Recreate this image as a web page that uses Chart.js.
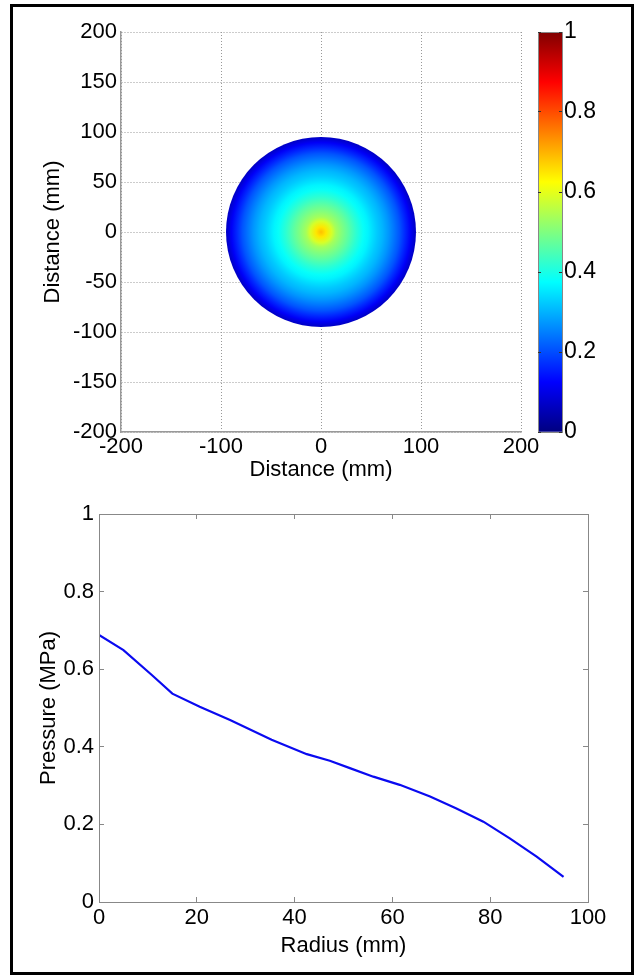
<!DOCTYPE html>
<html>
<head>
<meta charset="utf-8">
<script src="https://cdn.jsdelivr.net/npm/chart.js@4.4.1/dist/chart.umd.min.js"></script>
<style>
  html, body { margin: 0; padding: 0; background: #fff; }
  #page { position: relative; width: 639px; height: 976px; overflow: hidden; }
  #frame { position: absolute; left: 10px; top: 4px; width: 624px; height: 971px; box-sizing: border-box; border: 3px solid #000; }
  canvas { position: absolute; }
  #mapChart { left: 0; top: 0; }
  #barChart { left: 500px; top: 0; }
  #lineChart { left: 0; top: 480px; }
</style>
</head>
<body>
<div id="page">
  <div id="frame"></div>
  <canvas id="mapChart" width="546" height="490"></canvas>
  <canvas id="barChart" width="139" height="490"></canvas>
  <canvas id="lineChart" width="639" height="496"></canvas>
</div>
<script>
// radial pressure profile
const radius = [0, 5, 10.8, 15, 20.6, 26.8, 35.3, 42.5, 47.2, 51.3, 56.1, 61.5, 67.7, 73.1, 78.6, 84, 89.5, 95];
const pressure = [0.688, 0.649, 0.585, 0.537, 0.503, 0.469, 0.418, 0.381, 0.364, 0.345, 0.323, 0.302, 0.272, 0.241, 0.207, 0.164, 0.117, 0.065];

const mapTicks = [-200, -150, -100, -50, 0, 50, 100, 150, 200];
const mapXTicks = [-200, -100, 0, 100, 200];
const colorbarRange = [0, 1];
const colorbarTicks = [0, 0.2, 0.4, 0.6, 0.8, 1];
const radiusTicks = [0, 20, 40, 60, 80, 100];
const pressureTicks = [0, 0.2, 0.4, 0.6, 0.8, 1];

Chart.defaults.font.family = "'Liberation Sans', Arial, sans-serif";
Chart.defaults.color = '#000';

// matlab jet colormap
function jet(v) {
  const c = t => Math.round(255 * Math.min(1, Math.max(0, t)));
  return 'rgb(' + c(1.5 - Math.abs(4 * v - 3)) + ',' + c(1.5 - Math.abs(4 * v - 2)) + ',' + c(1.5 - Math.abs(4 * v - 1)) + ')';
}

const align = p => Math.round(p - 0.5) + 0.5;
const plainLabel = v => String(v);

// grey frame round the plot area
const boxPlugin = {
  id: 'box',
  afterDatasetsDraw(chart, args, opts) {
    if (!opts.color) return;
    const a = chart.chartArea;
    const ctx = chart.ctx;
    ctx.save();
    ctx.strokeStyle = opts.color;
    ctx.lineWidth = 1;
    const l = align(a.left), t = align(a.top), r = align(a.right), b = align(a.bottom);
    ctx.strokeRect(l, t, r - l, b - t);
    ctx.restore();
  }
};

const setTicks = list => axis => { axis.ticks = list.map(v => ({ value: v })); };

// disc radius in pixels, through the x scale
function discPixels(chart) {
  const s = chart.scales.x;
  if (!s || !chart.chartArea) return NaN;
  return s.getPixelForValue(radius[radius.length - 1]) - s.getPixelForValue(0);
}

// ---- pressure map ----
new Chart(document.getElementById('mapChart').getContext('2d'), {
  type: 'scatter',
  data: {
    datasets: [{
      data: [{ x: 0, y: 0 }],
      clip: false,
      pointRadius: ctx => {
        const r = discPixels(ctx.chart);
        return isFinite(r) ? r : 0;
      },
      pointBorderWidth: 0,
      pointBackgroundColor: ctx => {
        const chart = ctx.chart;
        const rPix = discPixels(chart);
        if (!isFinite(rPix) || rPix <= 0) return 'rgba(0,0,0,0)';
        const cx = chart.scales.x.getPixelForValue(0), cy = chart.scales.y.getPixelForValue(0);
        const rMax = radius[radius.length - 1];
        const g = chart.ctx.createRadialGradient(cx, cy, 0, cx, cy, rPix);
        radius.forEach((r, i) => g.addColorStop(r / rMax, jet(pressure[i])));
        return g;
      }
    }]
  },
  options: {
    responsive: false,
    animation: false,
    events: [],
    layout: { padding: { top: 32, right: 25, bottom: 0, left: 0 } },
    plugins: { legend: { display: false }, tooltip: { enabled: false } },
    scales: {
      x: {
        type: 'linear', min: -200, max: 200,
        afterBuildTicks: setTicks(mapXTicks),
        afterFit: s => { s.height = 58; },
        grid: { color: '#999', drawTicks: false },
        border: { color: '#999', width: 1.5, dash: [1, 2] },
        ticks: { font: { size: 22 }, padding: 2, maxRotation: 0, minRotation: 0, autoSkip: false, callback: plainLabel },
        title: { display: true, text: 'Distance (mm)', font: { size: 22 }, padding: { top: 0, bottom: 7 } }
      },
      y: {
        type: 'linear', min: -200, max: 200,
        afterBuildTicks: setTicks(mapTicks),
        afterFit: s => { s.width = 121; },
        grid: { color: '#999', drawTicks: false },
        border: { color: '#999', width: 1.5, dash: [1, 2] },
        ticks: { font: { size: 22 }, padding: 4, autoSkip: false, callback: plainLabel },
        title: { display: true, text: 'Distance (mm)', font: { size: 22 }, padding: { top: 40, bottom: 0 } }
      }
    }
  }
});

// ---- colour bar ----
new Chart(document.getElementById('barChart').getContext('2d'), {
  type: 'bar',
  data: {
    labels: [''],
    datasets: [{
      data: [colorbarRange],
      barPercentage: 1,
      categoryPercentage: 1,
      borderWidth: 0,
      backgroundColor: ctx => {
        const chart = ctx.chart;
        const sy = chart.scales.y;
        if (!sy || !chart.chartArea) return '#00f';
        const y0 = sy.getPixelForValue(colorbarRange[0]);
        const y1 = sy.getPixelForValue(colorbarRange[1]);
        if (!isFinite(y0) || !isFinite(y1)) return '#00f';
        const g = chart.ctx.createLinearGradient(0, y0, 0, y1);
        [0, 0.125, 0.375, 0.625, 0.875, 1].forEach(v => g.addColorStop(v, jet(v)));
        return g;
      }
    }]
  },
  options: {
    responsive: false,
    animation: false,
    events: [],
    layout: { padding: { top: 32, right: 0, bottom: 58, left: 38 } },
    plugins: { legend: { display: false }, tooltip: { enabled: false }, box: { color: '#888' } },
    scales: {
      x: { display: false },
      y: {
        position: 'right', min: 0, max: 1,
        afterBuildTicks: setTicks(colorbarTicks),
        afterFit: s => { s.width = 77; },
        grid: { color: '#333', drawTicks: false, z: 1 },
        border: { display: false, dash: [3, 18] },
        ticks: { font: { size: 23 }, padding: 2, autoSkip: false, callback: plainLabel }
      }
    }
  },
  plugins: [boxPlugin]
});

// ---- pressure against radius ----
new Chart(document.getElementById('lineChart').getContext('2d'), {
  type: 'line',
  data: {
    datasets: [{
      data: radius.map((r, i) => ({ x: r, y: pressure[i] })),
      borderColor: '#0a0af0',
      borderWidth: 2.2,
      pointRadius: 0,
      tension: 0,
      fill: false
    }]
  },
  options: {
    responsive: false,
    animation: false,
    events: [],
    layout: { padding: { top: 34, right: 51, bottom: 0, left: 0 } },
    plugins: { legend: { display: false }, tooltip: { enabled: false }, box: { color: '#888' } },
    scales: {
      x: {
        type: 'linear', min: 0, max: 100,
        afterBuildTicks: setTicks(radiusTicks),
        afterFit: s => { s.height = 74; },
        grid: { color: '#888', drawTicks: false },
        border: { display: false, dash: [5, 378] },
        ticks: { font: { size: 22 }, padding: 3, maxRotation: 0, autoSkip: false, callback: plainLabel },
        title: { display: true, text: 'Radius (mm)', font: { size: 22 }, padding: { top: 0, bottom: 17 } }
      },
      y: {
        type: 'linear', min: 0, max: 1,
        afterBuildTicks: setTicks(pressureTicks),
        afterFit: s => { s.width = 99; },
        grid: { color: '#888', drawTicks: false },
        border: { display: false, dash: [5, 479] },
        ticks: { font: { size: 22 }, padding: 5, autoSkip: false, callback: plainLabel },
        title: { display: true, text: 'Pressure (MPa)', font: { size: 22 }, padding: { top: 36, bottom: 0 } }
      }
    }
  },
  plugins: [boxPlugin]
});
</script>
</body>
</html>
